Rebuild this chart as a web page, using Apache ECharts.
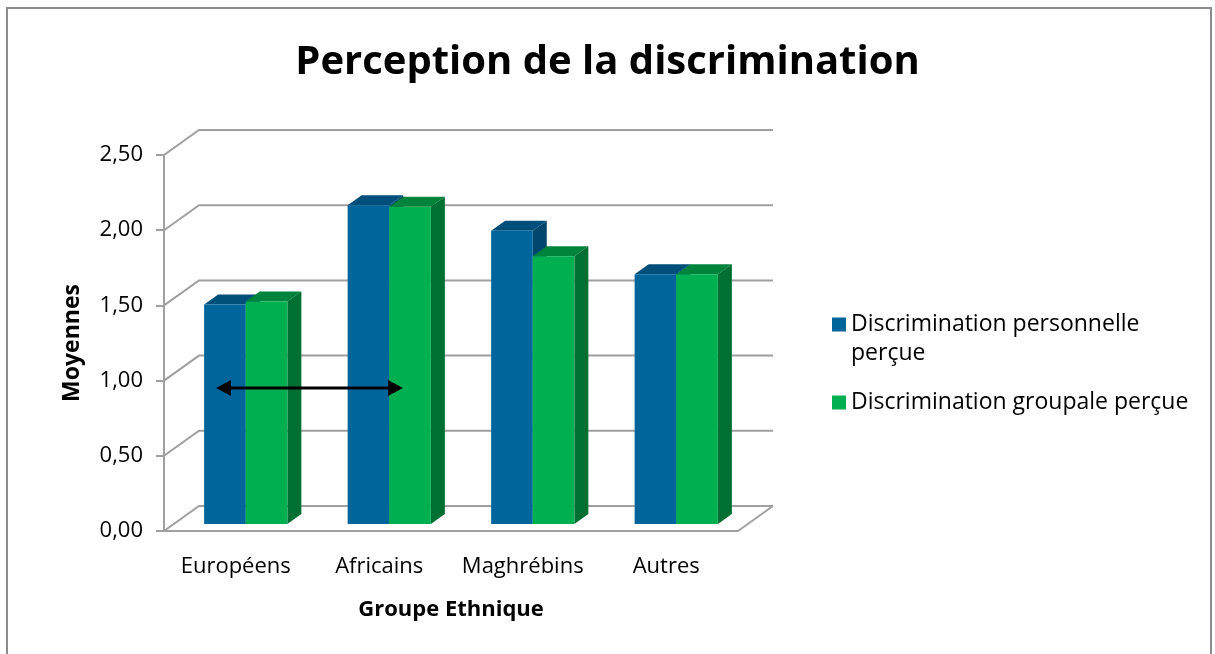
<!DOCTYPE html>
<html>
<head>
<meta charset="utf-8">
<script src="https://cdn.jsdelivr.net/npm/echarts@6/dist/echarts.min.js"></script>
<style>
html, body { margin: 0; padding: 0; background: #fff; }
#main { width: 1215px; height: 654px; }
</style>
</head>
<body>
<div id="main"></div>
<script>
var categories = ['Européens', 'Africains', 'Maghrébins', 'Autres'];
var seriesNames = ['Discrimination personnelle perçue', 'Discrimination groupale perçue'];
var personnelle = [1.46, 2.12, 1.95, 1.66];
var groupale = [1.48, 2.11, 1.78, 1.66];
var yTicks = [0, 0.5, 1, 1.5, 2, 2.5];

// couleurs des faces (avant, dessus, cote)
var faces = [
	{ front: '#00659a', top: '#004f7a', side: '#00476e' },
	{ front: '#00b050', top: '#00843c', side: '#006f32' }
];

// profondeur du "3D"
var WALL_DX = 35, WALL_DY = -25;
var BAR_OX = 10, BAR_OY = -7;
var BAR_DX = 14, BAR_DY = -10;
var GRID_COLOR = '#a0a0a0';
var FONT = 'Open Sans';

var chart = echarts.init(document.getElementById('main'));

function barRender(serieIdx) {
	return function (params, api) {
		var idx = api.value(0);
		var val = api.value(1);
		var base = api.coord([idx, 0]);
		var top = api.coord([idx, val]);
		var band = api.size([1, 0])[0];
		var w = band * 0.29;
		var x0 = base[0] - w + serieIdx * w + BAR_OX;
		var x1 = x0 + w;
		var yb = base[1] + BAR_OY;
		var yt = top[1] + BAR_OY;
		var c = faces[serieIdx];
		return {
			type: 'group',
			children: [
				{ type: 'polygon', shape: { points: [[x0, yt], [x1, yt], [x1 + BAR_DX, yt + BAR_DY], [x0 + BAR_DX, yt + BAR_DY]] },
					style: { fill: c.top } },
				{ type: 'polygon', shape: { points: [[x1, yt], [x1 + BAR_DX, yt + BAR_DY], [x1 + BAR_DX, yb + BAR_DY], [x1, yb]] },
					style: { fill: c.side } },
				{ type: 'rect', shape: { x: x0, y: yt, width: w, height: yb - yt },
					style: { fill: c.front } }
			]
		};
	};
}

function gridRender(params, api) {
	var v = api.value(0);
	var band = api.size([1, 0])[0];
	var left = api.coord([0, v]);
	var right = api.coord([categories.length - 1, v]);
	var xl = left[0] - band / 2;
	var xr = right[0] + band / 2;
	var y = left[1];
	var children = [{
		type: 'polyline',
		shape: { points: [[xl, y], [xl + WALL_DX, y + WALL_DY], [xr + WALL_DX, y + WALL_DY]] },
		style: { stroke: GRID_COLOR, lineWidth: 2, fill: null }
	}];
	if (v === 0) {
		children.push({
			type: 'line',
			shape: { x1: xr, y1: y, x2: xr + WALL_DX, y2: y + WALL_DY },
			style: { stroke: GRID_COLOR, lineWidth: 2 }
		});
	}
	return { type: 'group', children: children };
}

var option = {
	animation: false,
	backgroundColor: '#fff',
	title: {
		text: 'Perception de la discrimination',
		left: 'center',
		top: 38,
		textStyle: { fontFamily: FONT, fontSize: 40, fontWeight: 'bold', color: '#000' }
	},
	grid: { left: 164, right: 477, top: 155, bottom: 123 },
	legend: {
		orient: 'vertical',
		left: 832,
		top: 281,
		padding: 0,
		itemWidth: 14,
		itemHeight: 14,
		itemGap: 20,
		icon: 'rect',
		textStyle: { fontFamily: FONT, fontSize: 23, color: '#000', lineHeight: 29 },
		data: [
			{ name: seriesNames[0], itemStyle: { color: faces[0].front } },
			{ name: seriesNames[1], itemStyle: { color: faces[1].front } }
		],
		// ligne vide au-dessus pour garder le carre sur la premiere ligne
		formatter: function (name) {
			return name === seriesNames[0] ? ' \nDiscrimination personnelle\nperçue' : name;
		}
	},
	xAxis: {
		type: 'category',
		data: categories,
		name: 'Groupe Ethnique',
		nameLocation: 'middle',
		nameGap: 68,
		nameTextStyle: { fontFamily: FONT, fontSize: 22, fontWeight: 'bold', color: '#000' },
		axisLine: { lineStyle: { color: GRID_COLOR, width: 2 } },
		axisTick: { length: 8, lineStyle: { color: GRID_COLOR, width: 2 } },
		axisLabel: { interval: 0, margin: 25, fontFamily: FONT, fontSize: 22, color: '#000' }
	},
	yAxis: {
		type: 'value',
		min: 0,
		max: 2.5,
		interval: 0.5,
		name: 'Moyennes',
		nameLocation: 'middle',
		nameRotate: 90,
		nameGap: 80,
		nameTextStyle: { fontFamily: FONT, fontSize: 23, fontWeight: 'bold', color: '#000' },
		axisLine: { show: true, lineStyle: { color: GRID_COLOR, width: 2 } },
		axisTick: { show: true, length: 8, lineStyle: { color: GRID_COLOR, width: 2 } },
		splitLine: { show: false },
		axisLabel: {
			margin: 21, fontFamily: FONT, fontSize: 22, color: '#000',
			formatter: function (v) { return v.toFixed(2).replace('.', ','); }
		}
	},
	series: [
		{
			type: 'custom',
			name: 'grille',
			z: 1,
			silent: true,
			renderItem: gridRender,
			data: yTicks.map(function (v) { return [v]; }),
			encode: { y: 0 }
		},
		{
			type: 'custom',
			name: seriesNames[0],
			z: 3,
			itemStyle: { color: faces[0].front },
			renderItem: barRender(0),
			data: personnelle.map(function (v, i) { return [i, v]; }),
			encode: { x: 0, y: 1 }
		},
		{
			type: 'custom',
			name: seriesNames[1],
			z: 4,
			itemStyle: { color: faces[1].front },
			renderItem: barRender(1),
			data: groupale.map(function (v, i) { return [i, v]; }),
			encode: { x: 0, y: 1 }
		}
	],
	graphic: [
		{ type: 'rect', shape: { x: 7, y: 8, width: 1204, height: 660 },
			style: { fill: null, stroke: '#8c8c8c', lineWidth: 2 }, z: 0 },
		// fleche double
		{ type: 'line', z: 100, shape: { x1: 226, y1: 388, x2: 392, y2: 388 }, style: { stroke: '#000', lineWidth: 3 } },
		{ type: 'polygon', z: 100, shape: { points: [[216, 388], [231, 380], [231, 396]] }, style: { fill: '#000' } },
		{ type: 'polygon', z: 100, shape: { points: [[403, 388], [388, 380], [388, 396]] }, style: { fill: '#000' } }
	]
};

chart.setOption(option);
</script>
</body>
</html>
